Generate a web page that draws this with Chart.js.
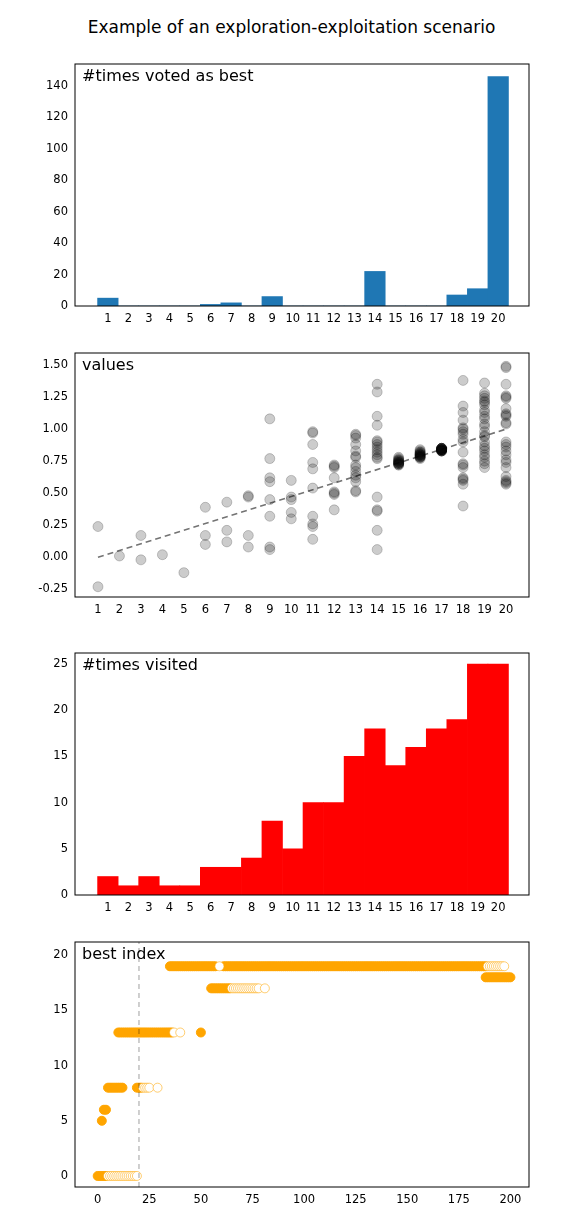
<!DOCTYPE html>
<html>
<head>
<meta charset="utf-8">
<script src="https://cdn.jsdelivr.net/npm/chart.js@4"></script>
<style>
  body { margin: 0; background: #fff; width: 583px; height: 1231px; position: relative; font-family: "DejaVu Sans", sans-serif; }
  #title { position: absolute; top: 17px; left: 0; width: 583px; text-align: center; font-size: 17px; color: #000; }
  .panel { position: absolute; left: 0; width: 583px; }
</style>
</head>
<body>
<div id="title">Example of an exploration-exploitation scenario</div>
<div class="panel" style="top:54px;height:282px"><canvas id="c1"></canvas></div>
<div class="panel" style="top:343px;height:284px"><canvas id="c2"></canvas></div>
<div class="panel" style="top:643px;height:282px"><canvas id="c3"></canvas></div>
<div class="panel" style="top:932px;height:285px"><canvas id="c4"></canvas></div>
<script>
// arm indices 1..20
const arms = [1,2,3,4,5,6,7,8,9,10,11,12,13,14,15,16,17,18,19,20];
const timesVotedBest = [5,0,0,0,0,1,2,0,6,0,0,0,0,22,0,0,0,7,11,146];
const timesVisited = [2,1,2,1,1,3,3,4,8,5,10,10,15,18,14,16,18,19,25,25];

// observed values per arm
const armValues = {
  1: [0.24, -0.23],
  2: [0.01],
  3: [0.17, -0.02],
  4: [0.02],
  5: [-0.12],
  6: [0.39, 0.17, 0.10],
  7: [0.43, 0.21, 0.12],
  8: [0.48, 0.47, 0.17, 0.08],
  9: [1.08, 0.77, 0.62, 0.59, 0.45, 0.32, 0.08, 0.06],
  10: [0.60, 0.47, 0.45, 0.35, 0.30],
  11: [0.98, 0.97, 0.88, 0.74, 0.69, 0.54, 0.32, 0.26, 0.24, 0.14],
  12: [0.72, 0.71, 0.70, 0.62, 0.51, 0.50, 0.49, 0.37],
  13: [0.96, 0.93, 0.88, 0.83, 0.78, 0.72, 0.67, 0.62, 0.59, 0.51, 0.95, 0.79, 0.70, 0.64, 0.52],
  14: [1.35, 1.29, 1.10, 1.03, 0.91, 0.88, 0.86, 0.80, 0.77, 0.47, 0.36, 0.37, 0.21, 0.06, 0.90, 0.84, 0.78, 0.82],
  15: [0.73, 0.74, 0.75, 0.76, 0.77, 0.78, 0.72, 0.74, 0.73, 0.75, 0.76, 0.72, 0.74, 0.73],
  16: [0.77, 0.78, 0.79, 0.80, 0.81, 0.82, 0.83, 0.84, 0.78, 0.80, 0.79, 0.81, 0.80, 0.82, 0.78, 0.79],
  17: [0.83, 0.84, 0.85, 0.84, 0.83, 0.85, 0.84, 0.84, 0.83, 0.85, 0.84, 0.83, 0.84, 0.85, 0.84, 0.84, 0.83, 0.85],
  18: [1.38, 1.18, 1.13, 1.07, 1.00, 0.96, 0.90, 0.82, 0.72, 0.70, 0.61, 0.57, 0.40, 0.98, 0.92, 0.73, 0.62, 0.60, 1.01],
  19: [1.36, 1.28, 1.24, 1.19, 1.13, 1.08, 1.02, 0.98, 0.94, 0.90, 0.85, 0.78, 0.75, 0.70, 1.26, 1.21, 1.15, 1.04, 0.95, 0.87, 0.80, 0.73, 1.22, 1.10, 0.83],
  20: [1.49, 1.35, 1.25, 1.16, 1.10, 1.04, 0.90, 0.83, 0.74, 0.63, 0.58, 1.48, 1.26, 1.12, 1.11, 0.88, 0.80, 0.76, 0.59, 0.57, 1.24, 1.05, 0.86, 0.70, 0.60]
};
const trendLine = [{x: 1, y: 0.0}, {x: 20, y: 1.0}];

// best index over steps: [firstStep, lastStep, armIndex, filled]
const bestIndexRuns = [
  [0, 4, 0, true], [5, 19, 0, false],
  [2, 2, 5, true], [3, 4, 6, true],
  [5, 12, 8, true], [19, 21, 8, true], [22, 25, 8, false], [29, 29, 8, false],
  [10, 36, 13, true], [37, 37, 13, false], [40, 40, 13, false], [50, 50, 13, true],
  [55, 64, 17, true], [65, 78, 17, false], [81, 81, 17, false],
  [35, 57, 19, true], [59, 59, 19, false], [61, 188, 19, true], [189, 197, 19, false],
  [188, 200, 18, true]
];
const bestMarkerStep = 20;

const ORANGE = '#ffa500';
const TICK_FONT = { family: 'DejaVu Sans', size: 11.5 };

const panelLabel = {
  id: 'panelLabel',
  afterDraw(chart, args, opts) {
    const ctx = chart.ctx;
    ctx.save();
    ctx.font = '16px "DejaVu Sans"';
    ctx.fillStyle = '#000';
    ctx.textBaseline = 'top';
    ctx.fillText(opts.text, chart.chartArea.left + 7, chart.chartArea.top + 5);
    ctx.restore();
  }
};
const frame = {
  id: 'frame',
  afterDraw(chart) {
    const a = chart.chartArea, ctx = chart.ctx;
    ctx.save();
    ctx.strokeStyle = '#000';
    ctx.lineWidth = 1;
    ctx.strokeRect(a.left, a.top, a.right - a.left, a.bottom - a.top);
    ctx.restore();
  }
};

function axes(xmin, xmax, ymin, ymax, xTicks, yTicks, yFmt) {
  return {
    x: {
      type: 'linear', min: xmin, max: xmax, offset: false,
      grid: { display: false, drawTicks: true, tickLength: 4, tickColor: '#000', offset: false },
      border: { display: false },
      afterBuildTicks: s => { s.ticks = xTicks.map(v => ({ value: v })); },
      afterFit: s => { s.height = 30; },
      ticks: { color: '#000', font: TICK_FONT, maxRotation: 0, autoSkip: false, padding: 2 }
    },
    y: {
      min: ymin, max: ymax,
      grid: { display: false, drawTicks: true, tickLength: 4, tickColor: '#000' },
      border: { display: false },
      afterBuildTicks: s => { s.ticks = yTicks.map(v => ({ value: v })); },
      afterFit: s => { s.width = 75; },
      ticks: { color: '#000', font: TICK_FONT, padding: 3, callback: yFmt || (v => v) }
    }
  };
}

function baseOptions(label, scales) {
  return {
    responsive: true, maintainAspectRatio: false, animation: false,
    layout: { padding: { top: 10, right: 54, left: 0, bottom: 0 } },
    plugins: { legend: { display: false }, tooltip: { enabled: false }, panelLabel: { text: label } },
    scales
  };
}

// panel 1
new Chart(document.getElementById('c1'), {
  type: 'bar',
  data: { datasets: [{ data: arms.map((a, i) => ({ x: a, y: timesVotedBest[i] })), backgroundColor: '#1f77b4', categoryPercentage: 1, barPercentage: 1 }] },
  options: baseOptions('#times voted as best', axes(-0.6, 21.5, 0, 154, arms, [0,20,40,60,80,100,120,140])),
  plugins: [panelLabel, frame]
});

// panel 2
const scatterPts = [];
arms.forEach(a => armValues[a].forEach(v => scatterPts.push({ x: a, y: v })));
new Chart(document.getElementById('c2'), {
  type: 'scatter',
  data: { datasets: [
    { data: trendLine, showLine: true, borderColor: 'rgba(0,0,0,0.55)', borderDash: [6, 4], borderWidth: 1.6, pointRadius: 0 },
    { data: scatterPts, pointRadius: 5, backgroundColor: 'rgba(0,0,0,0.2)', borderColor: 'rgba(0,0,0,0.2)', borderWidth: 1 }
  ] },
  options: baseOptions('values', axes(-0.07, 21.07, -0.31, 1.594, arms, [-0.25,0,0.25,0.5,0.75,1,1.25,1.5], v => v.toFixed(2))),
  plugins: [panelLabel, frame]
});

// panel 3
new Chart(document.getElementById('c3'), {
  type: 'bar',
  data: { datasets: [{ data: arms.map((a, i) => ({ x: a, y: timesVisited[i] })), backgroundColor: '#ff0000', categoryPercentage: 1, barPercentage: 1 }] },
  options: baseOptions('#times visited', axes(-0.6, 21.5, 0, 26.2, arms, [0,5,10,15,20,25])),
  plugins: [panelLabel, frame]
});

// panel 4
const filledPts = [], hollowPts = [];
bestIndexRuns.forEach(([s, e, y, f]) => {
  for (let t = s; t <= e; t++) (f ? filledPts : hollowPts).push({ x: t, y });
});
new Chart(document.getElementById('c4'), {
  type: 'scatter',
  data: { datasets: [
    { data: [{ x: bestMarkerStep, y: -1 }, { x: bestMarkerStep, y: 21.2 }], showLine: true, borderColor: 'rgba(0,0,0,0.25)', borderDash: [5, 4], borderWidth: 1.5, pointRadius: 0 },
    { data: hollowPts, pointRadius: 4.5, backgroundColor: '#fff', borderColor: 'rgba(255,165,0,0.55)', borderWidth: 1 },
    { data: filledPts, pointRadius: 4.5, backgroundColor: ORANGE, borderColor: ORANGE, borderWidth: 1 }
  ] },
  options: baseOptions('best index', axes(-11, 209, -1, 21.2, [0,25,50,75,100,125,150,175,200], [0,5,10,15,20])),
  plugins: [panelLabel, frame]
});
</script>
</body>
</html>
